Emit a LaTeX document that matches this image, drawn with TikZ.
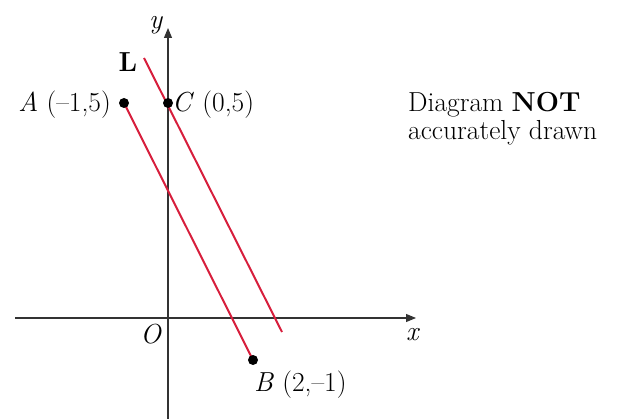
\documentclass[tikz,border=0pt]{standalone}
\usepackage{fontspec}
\usetikzlibrary{arrows.meta}
\definecolor{lred}{RGB}{215,30,60}
\begin{document}
\begin{tikzpicture}[x=1pt,y=-1pt,
  axis/.style={line width=1.1pt,draw=black!80,-{Triangle[length=10pt,width=8pt]}},
  redline/.style={line width=2pt,draw=lred,line cap=butt},
  lbl/.style={font=\fontsize{27.5}{30}\selectfont,inner sep=0pt}]
\useasboundingbox (0,0) rectangle (618,419);
% axes
\coordinate (xs) at (15,318);
\coordinate (xe) at (416,318);
\coordinate (ys) at (168,419);
\coordinate (ye) at (168,28);
\draw[axis] (xs) -- (xe);
\draw[axis] (ys) -- (ye);
\node[lbl,anchor=base west] (xl) at (406,341) {\textit{x}};
\node[lbl,anchor=base] (yl) at (156,29) {\textit{y}};
\node[lbl,anchor=base] (ol) at (151,344) {\textit{O}};
% points
\coordinate (A) at (124,103);
\coordinate (C) at (168,103);
\coordinate (B) at (253,360);
\coordinate (L1) at (144,58);
\coordinate (L2) at (282,332);
\draw[redline] (A) -- (B);
\draw[redline] (L1) -- (L2);
\fill (A) circle (5pt);
\fill (C) circle (5pt);
\fill (B) circle (5pt);
% labels
\node[lbl,anchor=base east] (al) at (111,112) {\textit{A} (--1,5)};
\node[lbl,anchor=base west] (cl) at (172,112) {\textit{C} (0,5)};
\node[lbl,anchor=base west] (bl) at (254,391) {\textit{B} (2,--1)};
\node[lbl,anchor=base] (ll) at (128,72) {\textbf{L}};
\node[lbl,anchor=base west] (n1) at (408,112) {Diagram \textbf{NOT}};
\node[lbl,anchor=base west] (n2) at (408,140) {accurately drawn};
\end{tikzpicture}
\end{document}
